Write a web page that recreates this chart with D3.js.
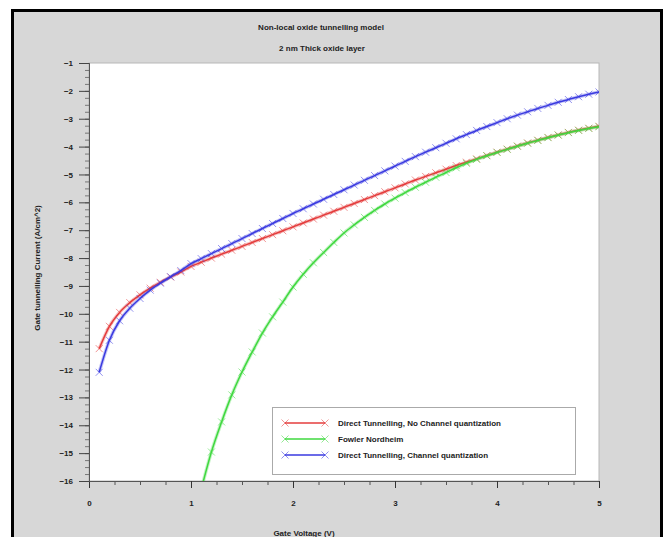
<!DOCTYPE html>
<html><head><meta charset="utf-8">
<script src="https://cdn.jsdelivr.net/npm/d3@7"></script>
<style>body{margin:0;background:#fff}svg{display:block}text{font-family:"Liberation Sans",Arial,sans-serif;font-weight:bold;fill:#222}</style>
</head><body><svg id="c" width="671" height="537"></svg>
<script>
const title = "Non-local oxide tunnelling model";
const subtitle = "2 nm Thick oxide layer";
const xTitle = "Gate Voltage (V)";
const yTitle = "Gate tunnelling Current (A/cm^2)";
const xTicks = [0,1,2,3,4,5];
const yTicks = [-1,-2,-3,-4,-5,-6,-7,-8,-9,-10,-11,-12,-13,-14,-15,-16];
const seriesNames = ["Direct Tunnelling, No Channel quantization","Fowler Nordheim","Direct Tunnelling, Channel quantization"];
const seriesColors = ["#e43c3c","#3fd83f","#3a3ae0"];
const vDirect = [0.1,0.2,0.3,0.4,0.5,0.6,0.7,0.8,0.9,1.0,1.1,1.2,1.3,1.4,1.5,1.6,1.7,1.8,1.9,2.0,2.1,2.2,2.3,2.4,2.5,2.6,2.7,2.8,2.9,3.0,3.1,3.2,3.3,3.4,3.5,3.6,3.7,3.8,3.9,4.0,4.1,4.2,4.3,4.4,4.5,4.6,4.7,4.8,4.9,5.0];
const jNoQuant = [-11.25,-10.45,-9.95,-9.6,-9.32,-9.08,-8.87,-8.68,-8.5,-8.3,-8.15,-8.0,-7.86,-7.72,-7.58,-7.44,-7.3,-7.16,-7.02,-6.88,-6.74,-6.6,-6.46,-6.32,-6.18,-6.04,-5.9,-5.76,-5.62,-5.48,-5.34,-5.2,-5.07,-4.94,-4.81,-4.68,-4.56,-4.44,-4.32,-4.2,-4.09,-3.98,-3.87,-3.77,-3.67,-3.58,-3.49,-3.41,-3.34,-3.27];
const jQuant = [-12.1,-10.95,-10.25,-9.8,-9.45,-9.15,-8.9,-8.67,-8.45,-8.2,-8.02,-7.84,-7.66,-7.48,-7.3,-7.12,-6.94,-6.76,-6.58,-6.4,-6.23,-6.06,-5.89,-5.72,-5.55,-5.38,-5.21,-5.04,-4.87,-4.7,-4.53,-4.36,-4.2,-4.04,-3.88,-3.72,-3.57,-3.42,-3.28,-3.14,-3.0,-2.87,-2.75,-2.63,-2.52,-2.41,-2.31,-2.21,-2.12,-2.04];
const vFN = [1.1,1.2,1.3,1.4,1.5,1.6,1.7,1.8,1.9,2.0,2.1,2.2,2.3,2.4,2.5,2.6,2.7,2.8,2.9,3.0,3.1,3.2,3.3,3.4,3.5,3.6,3.7,3.8,3.9,4.0,4.1,4.2,4.3,4.4,4.5,4.6,4.7,4.8,4.9,5.0];
const jFN = [-16.3,-14.96,-13.88,-12.91,-12.09,-11.37,-10.69,-10.11,-9.58,-9.04,-8.58,-8.17,-7.8,-7.44,-7.1,-6.81,-6.54,-6.29,-6.06,-5.85,-5.65,-5.46,-5.28,-5.1,-4.93,-4.76,-4.6,-4.46,-4.33,-4.21,-4.1,-3.99,-3.88,-3.78,-3.68,-3.59,-3.5,-3.42,-3.35,-3.29];

const svg = d3.select("#c");
// frame
svg.append("rect").attr("x",12.5).attr("y",10.5).attr("width",649).attr("height",540)
  .attr("fill","#d7d7d7").attr("stroke","#000").attr("stroke-width",3);

const L=89,R=599,T=63,B=481;
const x = d3.scaleLinear().domain([0,5]).range([L,R]);
const y = d3.scaleLinear().domain([-16,-1]).range([B,T]);

svg.append("rect").attr("x",L).attr("y",T).attr("width",R-L).attr("height",B-T)
  .attr("fill","#fff").attr("stroke","#b8b8b8").attr("stroke-width",1);

svg.append("defs").append("clipPath").attr("id","clip").append("rect")
  .attr("x",L).attr("y",T).attr("width",R-L).attr("height",B-T);

// axes
const xMinor = d3.range(0,5.001,0.25);
const yMinor = d3.range(-16,-0.999,0.25);
const gx = svg.append("g").attr("transform",`translate(0,${B})`);
gx.call(d3.axisBottom(x).tickValues(xMinor).tickSize(4).tickFormat(""));
gx.call(g=>g.selectAll(".tick line").attr("stroke","#555"));
const gx2 = svg.append("g").attr("transform",`translate(0,${B})`)
  .call(d3.axisBottom(x).tickValues(xTicks).tickSize(7).tickPadding(12).tickFormat(d3.format("d")));
gx2.selectAll(".tick line").attr("stroke","#333");
gx2.selectAll("text").attr("font-size",8);
svg.selectAll(".domain").attr("stroke","#555");

const gy = svg.append("g").attr("transform",`translate(${L},0)`);
gy.call(d3.axisLeft(y).tickValues(yMinor).tickSize(4).tickFormat(""));
gy.selectAll(".tick line").attr("stroke","#777");
const gy2 = svg.append("g").attr("transform",`translate(${L},0)`)
  .call(d3.axisLeft(y).tickValues(yTicks).tickSize(10).tickPadding(6).tickFormat(d3.format("d")));
gy2.selectAll(".tick line").attr("stroke","#444");
gy2.selectAll("text").attr("font-size",8);
svg.selectAll(".domain").attr("stroke","#555");

// titles
svg.append("text").attr("x",321).attr("y",30).attr("text-anchor","middle").attr("font-size",8).text(title);
svg.append("text").attr("x",322).attr("y",51).attr("text-anchor","middle").attr("font-size",8).text(subtitle);
svg.append("text").attr("x",304).attr("y",536).attr("text-anchor","middle").attr("font-size",8).text(xTitle);
svg.append("text").attr("transform","translate(40,268) rotate(-90)").attr("text-anchor","middle").attr("font-size",8).text(yTitle);

const series = [
  {v:vDirect, j:jNoQuant, c:seriesColors[0]},
  {v:vFN, j:jFN, c:seriesColors[1]},
  {v:vDirect, j:jQuant, c:seriesColors[2]}
];
const line = d3.line().x(d=>x(d[0])).y(d=>y(d[1])).curve(d3.curveMonotoneX);
const plot = svg.append("g").attr("clip-path","url(#clip)");
function cross(g, cx, cy, c, s){
  g.append("path").attr("d",`M${cx-s},${cy-s}L${cx+s},${cy+s}M${cx-s},${cy+s}L${cx+s},${cy-s}`)
   .attr("stroke",c).attr("stroke-width",1).attr("stroke-opacity",0.55).attr("fill","none");
}
series.forEach(s=>{
  const pts = s.v.map((v,i)=>[v,s.j[i]]);
  plot.append("path").datum(pts).attr("d",line).attr("fill","none").attr("stroke",s.c).attr("stroke-opacity",0.3).attr("stroke-width",3.5);
  plot.append("path").datum(pts).attr("d",line).attr("fill","none").attr("stroke",s.c).attr("stroke-width",1.5);
  const mg = plot.append("g");
  pts.forEach(p=>cross(mg, x(p[0]), y(p[1]), s.c, 3.5));
});

// legend
const lg = svg.append("g");
lg.append("rect").attr("x",272.5).attr("y",407.5).attr("width",303).attr("height",67)
  .attr("fill","#fff").attr("stroke","#aaa");
seriesNames.forEach((n,i)=>{
  const yy = 423 + i*16;
  lg.append("line").attr("x1",285).attr("x2",325).attr("y1",yy).attr("y2",yy).attr("stroke",seriesColors[i]).attr("stroke-width",1.5);
  cross(lg,285,yy,seriesColors[i],3.5); cross(lg,325,yy,seriesColors[i],3.5);
  lg.append("text").attr("x",338).attr("y",yy+3).attr("font-size",8).text(n);
});
</script></body></html>
